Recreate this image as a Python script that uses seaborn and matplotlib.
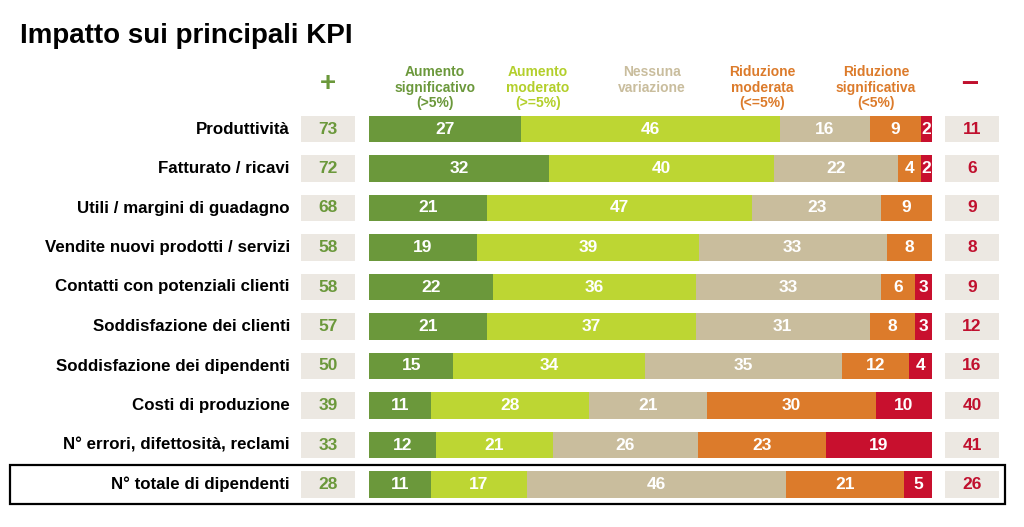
import matplotlib.pyplot as plt
import matplotlib.patches as mpatches
import numpy as np
import pandas as pd
import seaborn as sns

# ── Data ──────────────────────────────────────────────────────────────────────
kpi = [
    "Produttività",
    "Fatturato / ricavi",
    "Utili / margini di guadagno",
    "Vendite nuovi prodotti / servizi",
    "Contatti con potenziali clienti",
    "Soddisfazione dei clienti",
    "Soddisfazione dei dipendenti",
    "Costi di produzione",
    "N° errori, difettosità, reclami",
    "N° totale di dipendenti",
]
aumento_sig = [27, 32, 21, 19, 22, 21, 15, 11, 12, 11]
aumento_mod = [46, 40, 47, 39, 36, 37, 34, 28, 21, 17]
nessuna     = [16, 22, 23, 33, 33, 31, 35, 21, 26, 46]
riduz_mod   = [9, 4, 9, 8, 6, 8, 12, 30, 23, 21]
riduz_sig   = [2, 2, 0, 0, 3, 3, 4, 10, 19, 5]
tot_plus    = [73, 72, 68, 58, 58, 57, 50, 39, 33, 28]
tot_minus   = [11, 6, 9, 8, 9, 12, 16, 40, 41, 26]

series = ["Aumento\nsignificativo\n(>5%)", "Aumento\nmoderato\n(>=5%)",
          "Nessuna\nvariazione", "Riduzione\nmoderata\n(<=5%)",
          "Riduzione\nsignificativa\n(<5%)"]
colors = ["#6b983b", "#bdd633", "#c9bd9d", "#dc7b2b", "#c8102e"]
header_colors = ["#6b983b", "#b3cf2b", "#c9bd9d", "#dc7b2b", "#dc7b2b"]
box_color = "#ece8e2"
green_txt = "#6b983b"
red_txt = "#c0102e"

df = pd.DataFrame({"kpi": kpi, "s0": aumento_sig, "s1": aumento_mod,
                   "s2": nessuna, "s3": riduz_mod, "s4": riduz_sig})
cols = ["s0", "s1", "s2", "s3", "s4"]
# rounded percentages don't always add to 100: draw bars as share of row total
share = df[cols].div(df[cols].sum(axis=1), axis=0) * 100
cum = share.cumsum(axis=1)

# ── Layout (pixel -> data mapping) ────────────────────────────────────────────
W, H = 1024, 527
px_per_unit = 5.63
x0_px = 369
row0_px, row_step = 129, 39.5

fig = plt.figure(figsize=(W / 100, H / 100), dpi=100)
ax = fig.add_axes([0, 0, 1, 1])

cond = ["Liberation Sans Narrow", "Liberation Sans", "DejaVu Sans"]
bold = ["Liberation Sans", "DejaVu Sans"]

# stacked bars: draw cumulative totals from the largest down
for k in range(len(cols) - 1, -1, -1):
    sns.barplot(x=cum[cols[k]], y=df["kpi"], order=kpi, orient="h",
                color=colors[k], saturation=1, width=0.66, ax=ax,
                edgecolor="none", linewidth=0)

ypos = np.arange(len(kpi))
# side boxes for totals
plus_left, box_w = (301 - x0_px) / px_per_unit, 54 / px_per_unit
minus_left = (945 - x0_px) / px_per_unit
ax.barh(ypos, box_w, left=plus_left, height=0.66, color=box_color)
ax.barh(ypos, box_w, left=minus_left, height=0.66, color=box_color)

for i in range(len(kpi)):
    ax.text((290 - x0_px) / px_per_unit, i, kpi[i], ha="right", va="center",
            fontsize=12.2, fontweight="bold", family=bold, color="black")
    ax.text(plus_left + box_w / 2, i, str(tot_plus[i]), ha="center", va="center",
            fontsize=12.5, fontweight="bold", family=cond, color=green_txt)
    ax.text(minus_left + box_w / 2, i, str(tot_minus[i]), ha="center", va="center",
            fontsize=12.5, fontweight="bold", family=cond, color=red_txt)
    for k, c in enumerate(cols):
        v = df.loc[i, c]
        if v <= 0:
            continue
        xc = cum.loc[i, c] - share.loc[i, c] / 2
        ax.text(xc, i, str(v), ha="center", va="center", fontsize=12.5,
                fontweight="bold", family=cond, color="white")

# headers
header_x = [435, 538, 652, 762, 876]
for lbl, hx, hc in zip(series, header_x, header_colors):
    ax.text((hx - x0_px) / px_per_unit, (65 - row0_px) / row_step, lbl,
            ha="center", va="top", fontsize=10, fontweight="bold",
            family=cond, color=hc, linespacing=1.15)
ax.text((328 - x0_px) / px_per_unit, (84 - row0_px) / row_step, "+",
        ha="center", va="center", fontsize=20, fontweight="bold",
        family=bold, color=green_txt)
ax.text((970 - x0_px) / px_per_unit, (83 - row0_px) / row_step, "–",
        ha="center", va="center", fontsize=22, fontweight="bold",
        family=bold, color=red_txt)

ax.set_xlim(-x0_px / px_per_unit, (W - x0_px) / px_per_unit)
ax.set_ylim((H - row0_px) / row_step, -row0_px / row_step)
ax.axis("off")

# title and highlighted last row
fig.text(20 / W, 1 - 36 / H, "Impatto sui principali KPI", ha="left",
         va="center", fontsize=20, fontweight="bold", family=bold)
fig.patches.append(mpatches.Rectangle((10 / W, 1 - 504 / H), 995 / W, 39 / H,
                                      transform=fig.transFigure, fill=False,
                                      edgecolor="black", linewidth=1.6))

fig.savefig("out.png", dpi=100)
